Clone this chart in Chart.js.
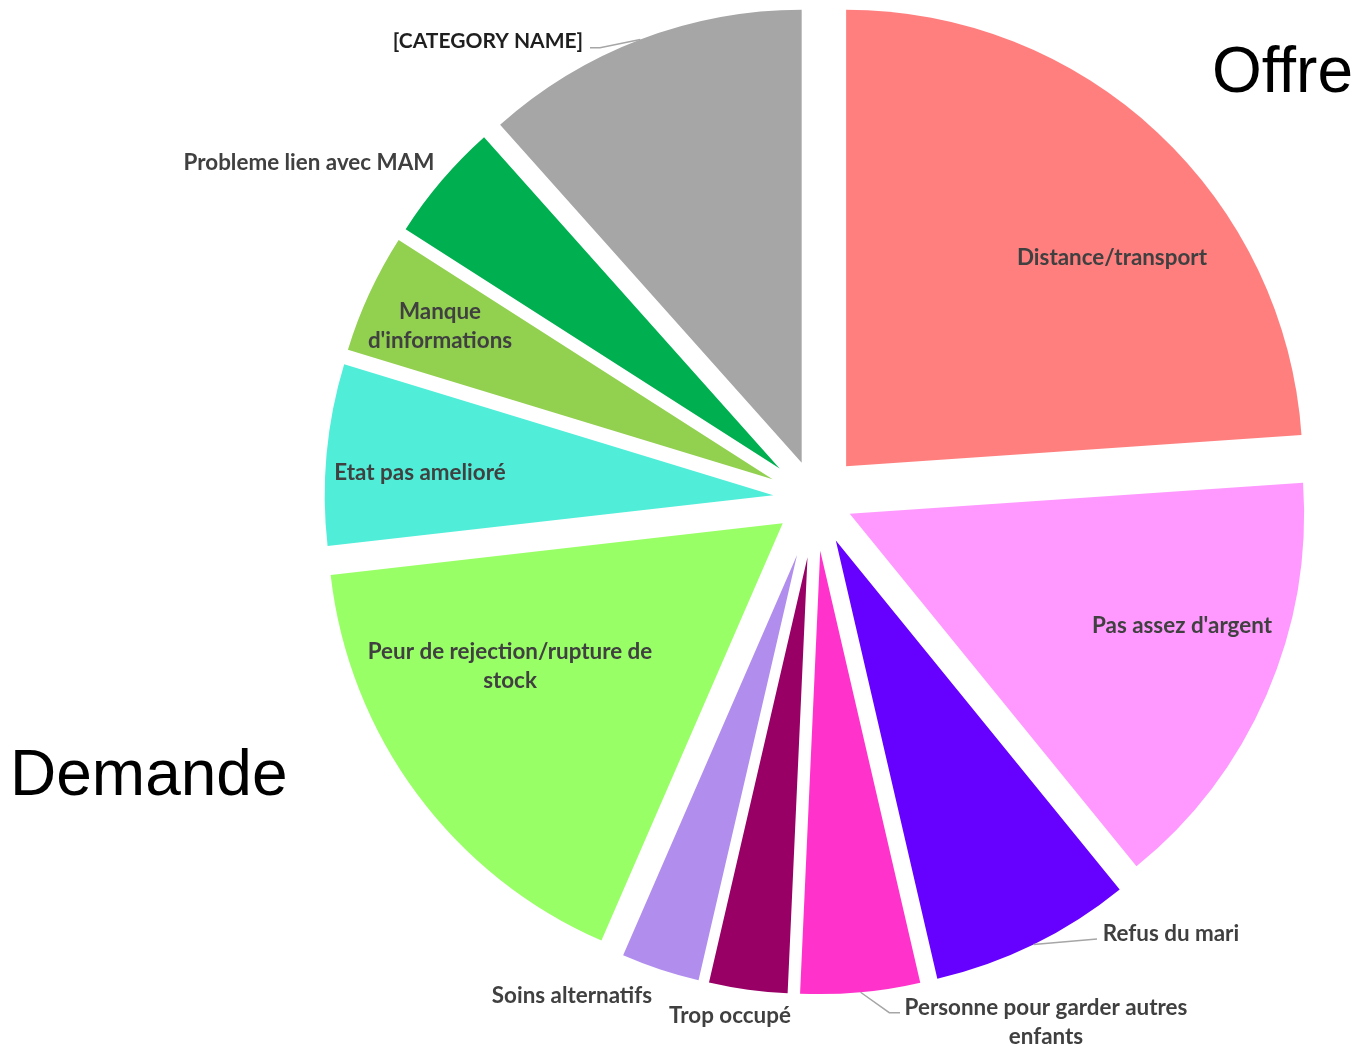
<!DOCTYPE html>
<html lang="fr">
<head>
<meta charset="UTF-8">
<title>Raisons de non-utilisation</title>
<script src="https://cdn.jsdelivr.net/npm/chart.js@4.4.1/dist/chart.umd.min.js"></script>
<style>
    html, body { margin: 0; padding: 0; background: #fff; }
    #wrap { position: relative; width: 1356px; height: 1045px; }
</style>
</head>
<body>
<div id="wrap"><canvas id="pie" width="1356" height="1045"></canvas></div>
<script>
// slices, clockwise from 12 o'clock
const categories = [
    'Distance/transport',
    "Pas assez d'argent",
    'Refus du mari',
    'Personne pour garder autres enfants',
    'Trop occupé',
    'Soins alternatifs',
    'Peur de rejection/rupture de stock',
    'Etat pas amelioré',
    "Manque d'informations",
    'Probleme lien avec MAM',
    '[CATEGORY NAME]'
];
const values = [33, 21, 10, 6, 4, 4, 23, 9, 6, 6, 16];
const colors = ['#FF7F7F', '#FF99FF', '#6600FF', '#FF33CC', '#990066', '#B18EEE',
                '#99FF66', '#50EED9', '#92D050', '#00B050', '#A6A6A6'];

// label text as it is wrapped on the chart
const labelLines = [
    ['Distance/transport'],
    ["Pas assez d'argent"],
    ['Refus du mari'],
    ['Personne pour garder autres', 'enfants'],
    ['Trop occupé'],
    ['Soins alternatifs'],
    ['Peur de rejection/rupture de', 'stock'],
    ['Etat pas amelioré'],
    ['Manque', "d'informations"],
    ['Probleme lien avec MAM'],
    ['[CATEGORY NAME]']
];

// --- layout / style (px) ---
// how far each slice is pulled out, and its radius
const explode = [44.9, 37.3, 46.2, 52, 58.8, 58.9, 40.8, 42.4, 47.2, 47.1, 38.8];
const radii = [456.4, 454.4, 449.8, 443.3, 436.5, 436.5, 455, 448.6, 444, 444, 453];
// label centre, relative to pie centre
const labelPos = [
    [296.5, -241], [366.5, 127], [355.5, 435], [230.5, 523], [-85.5, 517], [-243.5, 497],
    [-305.5, 167.5], [-395.5, -26], [-375.5, -172.5], [-506.5, -336], [-327.5, -458]
];
// leader lines: extra points after the slice edge, relative to pie centre
const leaders = {
    2: [[281.5, 440]],
    3: [[73.8, 513.7], [84.5, 513.7]],
    10: [[-215.5, -451.3], [-225.5, -451.3]]
};
const labelColor = i => i === 10 ? '#1F1F1F' : '#404040';
const labelSize = i => i === 10 ? 21 : 22.4;

function pieCentre(chart) {
    const a = chart.chartArea;
    return [(a.left + a.right) / 2, (a.top + a.bottom) / 2];
}

// exploded slices: move each arc out along its bisector (parallel gaps, no shrink)
const explodeSlices = {
    id: 'explodeSlices',
    beforeDatasetsDraw(chart) {
        const [cx, cy] = pieCentre(chart);
        chart.getDatasetMeta(0).data.forEach((arc, i) => {
            const mid = (arc.startAngle + arc.endAngle) / 2;
            arc.x = cx + Math.cos(mid) * explode[i];
            arc.y = cy + Math.sin(mid) * explode[i];
            arc.outerRadius = radii[i];
        });
    }
};

const sliceLabels = {
    id: 'sliceLabels',
    afterDatasetsDraw(chart) {
        const ctx = chart.ctx;
        const arcs = chart.getDatasetMeta(0).data;
        const [cx, cy] = pieCentre(chart);
        ctx.save();

        // leader lines
        ctx.strokeStyle = '#A6A6A6';
        ctx.lineWidth = 1.5;
        Object.keys(leaders).forEach(k => {
            const arc = arcs[k];
            const mid = (arc.startAngle + arc.endAngle) / 2;
            const r = explode[k] + radii[k];
            ctx.beginPath();
            ctx.moveTo(cx + Math.cos(mid) * r, cy + Math.sin(mid) * r);
            leaders[k].forEach(p => ctx.lineTo(cx + p[0], cy + p[1]));
            ctx.stroke();
        });

        // labels
        ctx.textAlign = 'center';
        ctx.textBaseline = 'middle';
        labelLines.forEach((lines, i) => {
            ctx.font = `bold ${labelSize(i)}px Lato`;
            ctx.fillStyle = labelColor(i);
            const y0 = cy + labelPos[i][1] - (lines.length - 1) * 29 / 2;
            lines.forEach((txt, j) => ctx.fillText(txt, cx + labelPos[i][0], y0 + j * 29));
        });

        // the two groups
        ctx.fillStyle = '#000';
        ctx.font = '64px "Liberation Sans", Arial, sans-serif';
        ctx.textBaseline = 'alphabetic';
        ctx.textAlign = 'right';
        ctx.fillText('Offre', 1353, 92);
        ctx.textAlign = 'left';
        ctx.fillText('Demande', 10, 795);
        ctx.restore();
    }
};

new Chart(document.getElementById('pie'), {
    type: 'pie',
    data: {
        labels: categories,
        datasets: [{
            data: values,
            backgroundColor: colors,
            borderWidth: 0
        }]
    },
    options: {
        responsive: false,
        animation: false,
        events: [],
        layout: { padding: { left: 275, right: 0, top: 0, bottom: 47 } },
        plugins: { legend: { display: false }, tooltip: { enabled: false } }
    },
    plugins: [explodeSlices, sliceLabels]
});
</script>
</body>
</html>
